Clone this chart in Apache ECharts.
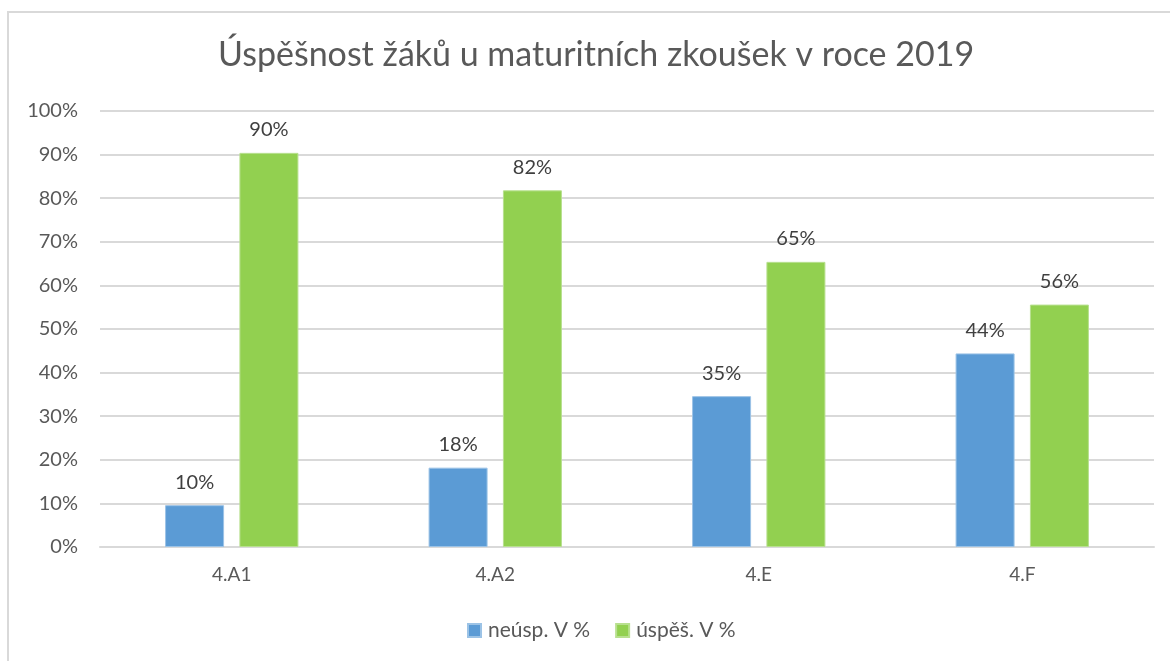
<!DOCTYPE html>
<html>
<head>
<meta charset="utf-8">
<script src="https://cdn.jsdelivr.net/npm/echarts@6/dist/echarts.min.js"></script>
<style>
html,body{margin:0;padding:0;background:#fff;}
#frame{position:absolute;left:7px;top:11px;width:1180px;height:670px;border:2px solid #d9d9d9;box-sizing:border-box;}
#chart{position:absolute;left:0;top:0;width:1170px;height:661px;}
</style>
</head>
<body>
<div id="frame"></div>
<div id="chart"></div>
<script>
const titleText = 'Úspěšnost žáků u maturitních zkoušek v roce 2019';
const categories = ['4.A1', '4.A2', '4.E', '4.F'];
const seriesNames = ['neúsp. V %', 'úspěš. V %'];
const failValues = [9.6, 18.2, 34.6, 44.4];
const passValues = [90.4, 81.8, 65.4, 55.6];
const yTicks = [0, 10, 20, 30, 40, 50, 60, 70, 80, 90, 100];

const font = 'Lato, "Open Sans", sans-serif';
const chart = echarts.init(document.getElementById('chart'));
const labelCfg = {
  show: true, position: 'top', distance: 13,
  color: '#404040', fontSize: 20, fontFamily: font,
  formatter: p => Math.round(p.value) + '%'
};
chart.setOption({
  animation: false,
  title: {
    text: titleText, left: 213, top: 33,
    textStyle: { fontFamily: font, fontWeight: 'normal', fontSize: 34, color: '#595959' }
  },
  legend: {
    data: seriesNames, bottom: 15, left: 462,
    itemWidth: 13, itemHeight: 13, itemGap: 25, icon: 'rect',
    textStyle: { fontFamily: font, fontSize: 21, color: '#595959', padding: [0, 0, 0, 2] }
  },
  grid: { left: 100, right: 16, top: 111, bottom: 114, containLabel: false },
  xAxis: {
    type: 'category', data: categories,
    axisLine: { lineStyle: { color: '#d9d9d9', width: 2 } },
    axisTick: { show: false },
    axisLabel: { fontFamily: font, fontSize: 19, color: '#595959', margin: 18 }
  },
  yAxis: {
    type: 'value', min: yTicks[0], max: yTicks[yTicks.length - 1], interval: 10,
    axisLine: { show: false }, axisTick: { show: false },
    splitLine: { lineStyle: { color: '#d9d9d9', width: 2 } },
    axisLabel: { fontFamily: font, fontSize: 20, color: '#595959', margin: 22, formatter: v => v + '%' }
  },
  series: [
    { name: seriesNames[0], type: 'bar', data: failValues, barWidth: 59, barGap: '26%',
      itemStyle: { color: '#5b9bd5', borderColor: '#9cc3e6', borderWidth: 1 }, label: labelCfg },
    { name: seriesNames[1], type: 'bar', data: passValues, barWidth: 59,
      itemStyle: { color: '#92d050', borderColor: '#b8e08f', borderWidth: 1 }, label: labelCfg }
  ]
});
</script>
</body>
</html>
